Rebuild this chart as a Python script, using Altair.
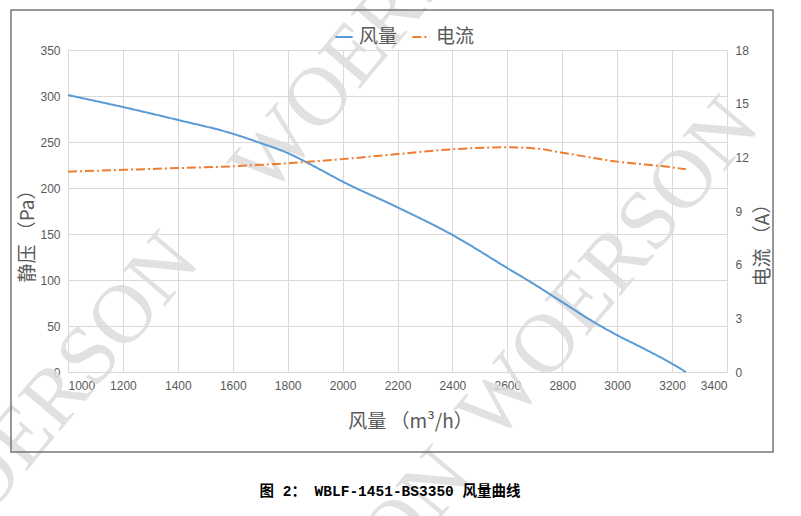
import altair as alt
import pandas as pd

# ---- data ----
flow = [1000, 1200, 1400, 1600, 1700, 1800, 1900, 2000, 2200, 2400, 2600, 2700, 2800, 2900, 3000, 3100, 3200, 3250]
pressure = [301, 288, 274, 259, 249, 238, 223, 207, 179, 149, 113, 95, 76, 57, 40, 25, 9, 0]
current = [11.2, 11.3, 11.4, 11.5, 11.58, 11.67, 11.78, 11.9, 12.18, 12.45, 12.56, 12.5, 12.26, 12.0, 11.76, 11.6, 11.44, 11.33]

x_ticks = list(range(1000, 3401, 200))
yl_ticks = list(range(0, 351, 50))
yr_ticks = list(range(0, 19, 3))

series_names = ["风量", "电流"]
series_colors = ["#5B9BD5", "#ED7D31"]

df_p = pd.DataFrame({"flow": flow, "val": pressure, "series": "风量"})
df_c = pd.DataFrame({"flow": flow, "val": current, "series": "电流"})

W, H = 659, 322
FONT = "Liberation Sans"
CJK = "Noto Sans CJK SC"
GRAY = "#595959"

color_scale = alt.Scale(domain=series_names, range=series_colors)
dash_scale = alt.Scale(domain=series_names, range=[[1, 0], [9, 3, 2, 3]])

legend = alt.Legend(
    title=None, orient="none", legendX=266, legendY=-23, direction="horizontal",
    symbolType="stroke", symbolSize=300, symbolStrokeWidth=2,
    labelFont=CJK, labelFontSize=19, labelColor=GRAY, columnPadding=10, labelOffset=5,
)

x_enc = alt.X("flow:Q", scale=alt.Scale(domain=[1000, 3400], nice=False, zero=False),
              axis=alt.Axis(values=x_ticks, title="风量 （m³/h）", grid=True, gridColor="#d9d9d9",
                            domain=True, domainColor="#d9d9d9", ticks=False, labelPadding=8,
                            labelFont=FONT, labelFontSize=12, labelColor=GRAY, format="d",
                            titleFont=CJK, titleFontSize=19, titleColor=GRAY, titleFontWeight="normal",
                            titleX=342, titleY=49, titleBaseline="middle"))

press = alt.Chart(df_p).mark_line(strokeWidth=2, interpolate="monotone").encode(
    x=x_enc,
    y=alt.Y("val:Q", scale=alt.Scale(domain=[0, 350], nice=False),
            axis=alt.Axis(values=yl_ticks, title="静压 （Pa）", grid=True, gridColor="#d9d9d9",
                          domain=False, ticks=False, labelPadding=8,
                          labelFont=FONT, labelFontSize=12, labelColor=GRAY,
                          titleFont=CJK, titleFontSize=19, titleColor=GRAY, titleFontWeight="normal",
                          titleX=-41, titleY=181, titleAngle=270, titleBaseline="middle")),
    color=alt.Color("series:N", scale=color_scale, legend=legend),
    strokeDash=alt.StrokeDash("series:N", scale=dash_scale, legend=legend),
)

curr = alt.Chart(df_c).mark_line(strokeWidth=2, interpolate="monotone").encode(
    x=alt.X("flow:Q", scale=alt.Scale(domain=[1000, 3400], nice=False, zero=False)),
    y=alt.Y("val:Q", scale=alt.Scale(domain=[0, 18], nice=False),
            axis=alt.Axis(values=yr_ticks, orient="right", title="电流 （A）", grid=False,
                          domain=False, ticks=False, labelPadding=8,
                          labelFont=FONT, labelFontSize=12, labelColor=GRAY,
                          titleFont=CJK, titleFontSize=19, titleColor=GRAY, titleFontWeight="normal",
                          titleX=35, titleY=190, titleAngle=270, titleBaseline="middle")),
    color=alt.Color("series:N", scale=color_scale, legend=legend),
    strokeDash=alt.StrokeDash("series:N", scale=dash_scale, legend=legend),
)

# frame around the chart area
frame = alt.Chart(pd.DataFrame({"a": [0]})).mark_rect(
    fill=None, stroke="#767676", strokeWidth=1.5
).encode(x=alt.value(-57), x2=alt.value(705), y=alt.value(-40), y2=alt.value(402))

# watermark (decoration)
wm_df = pd.DataFrame({"t": ["WOERSON"] * 4,
                      "px": [200, 427, -133, 140], "py": [148, 395, 530, 745]})
watermark = alt.Chart(wm_df).mark_text(
    font="Liberation Serif", fontSize=84, color="#dcdcdc", opacity=0.85,
    angle=310, align="left", baseline="alphabetic"
).encode(x=alt.X("px:Q", scale=None), y=alt.Y("py:Q", scale=None), text="t:N")

caption = alt.Chart(pd.DataFrame({"c": ["图 2：   WBLF-1451-BS3350 风量曲线"]})).mark_text(
    font="Liberation Mono, Noto Sans CJK SC", fontSize=14.5, fontWeight="bold", color="#000000",
    align="center", baseline="middle"
).encode(x=alt.value(322), y=alt.value(442), text="c:N")

chart = alt.layer(watermark, press, curr, frame, caption).resolve_scale(
    y="independent"
).properties(
    width=W, height=H,
    autosize=alt.AutoSizeParams(type="none"),
    padding={"left": 68, "top": 50, "right": 74, "bottom": 144},
    background="white",
).configure_view(stroke=None)

chart.save("out.html", embed_options={"renderer": "svg", "actions": False})
